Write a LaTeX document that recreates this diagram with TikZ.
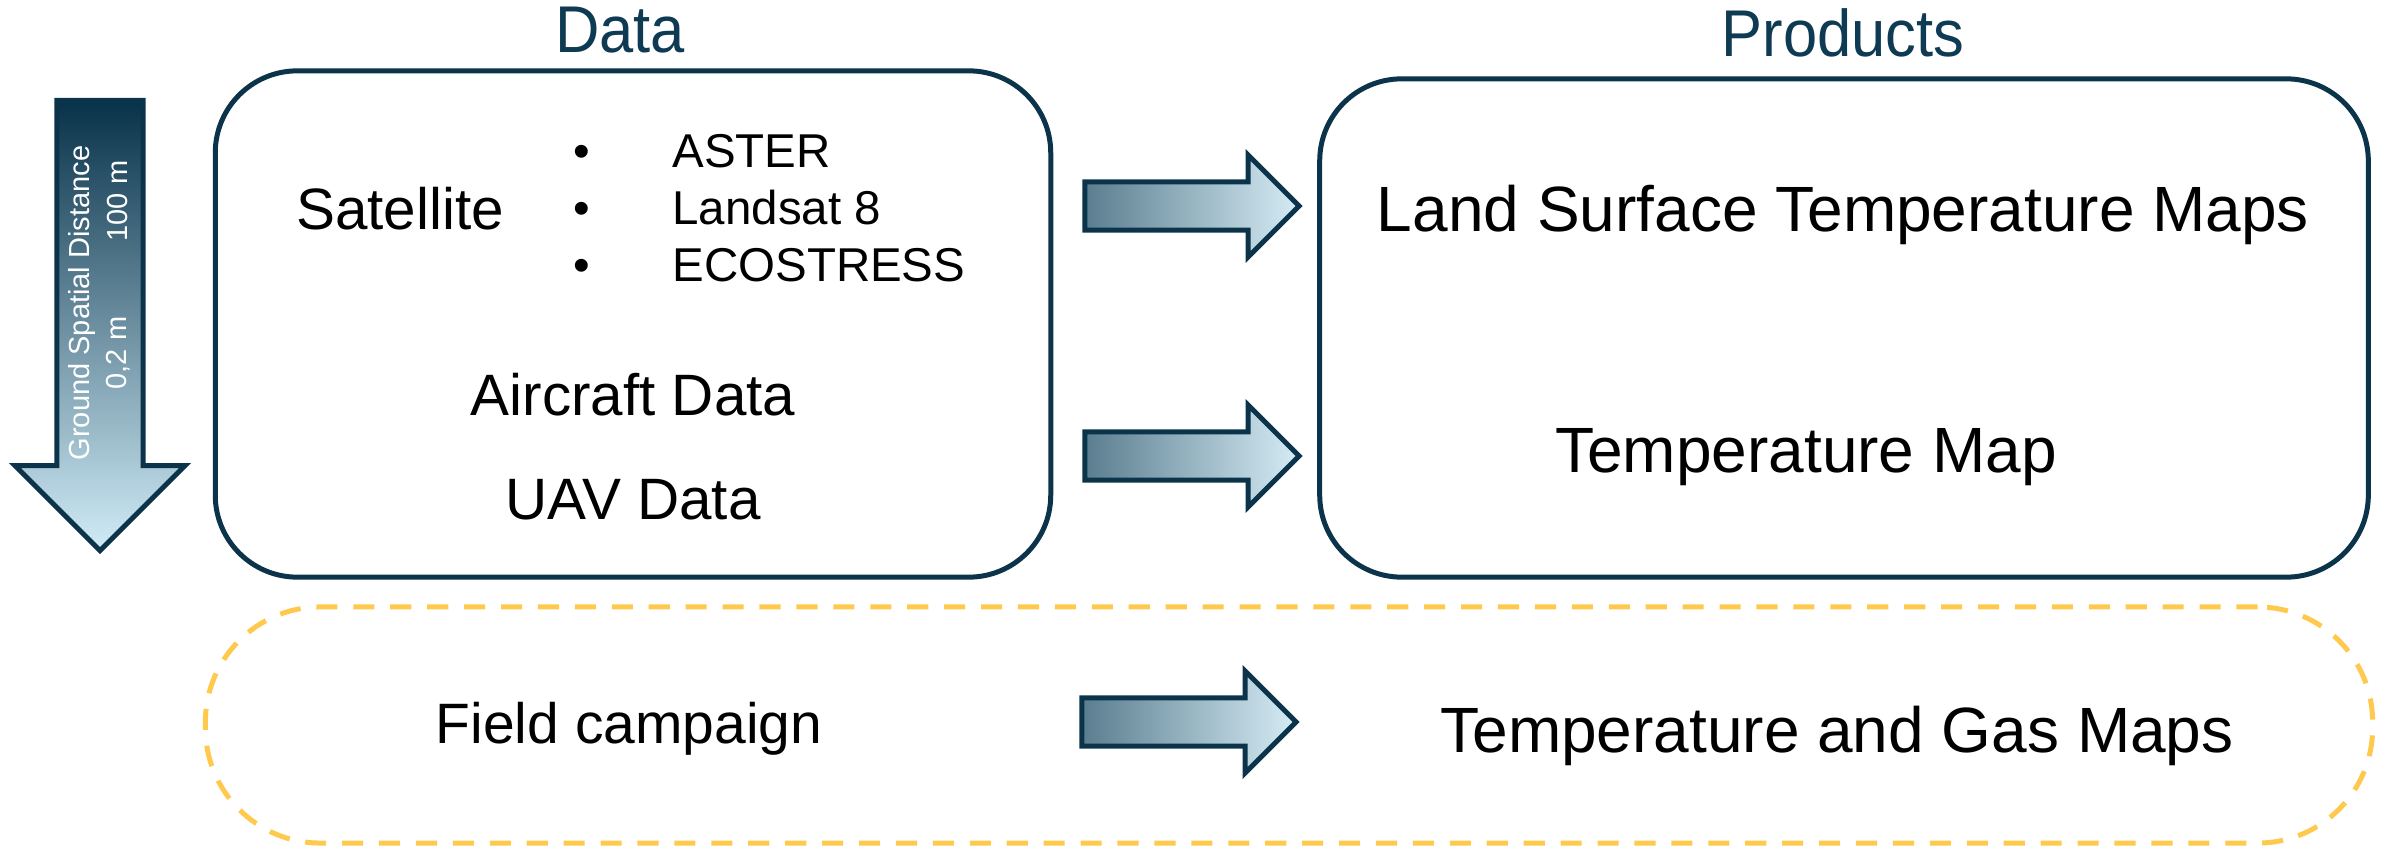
\documentclass[tikz,border=0pt]{standalone}
\usepackage{fontspec}
\setmainfont{Liberation Sans}
\newfontfamily\titlefont[FakeStretch=0.93]{Liberation Sans}
\usetikzlibrary{shapes.arrows,positioning}
\definecolor{navy}{HTML}{0B3349}
\definecolor{titleblue}{HTML}{0E3A53}
\definecolor{campaign}{HTML}{FFC94D}
\definecolor{shaftdark}{HTML}{5A7D8F}
\definecolor{shaftlight}{HTML}{D6ECF5}
\definecolor{gsdtop}{HTML}{08324A}
\definecolor{gsdbottom}{HTML}{D0ECF7}
\newcommand{\setsize}[1]{\fontsize{#1pt}{#1pt}\selectfont}

\begin{document}
\begin{tikzpicture}[
		x=0.01cm, y=-0.01cm,
		line width=1.42pt,
		box/.style={draw=navy, rounded corners=0.82cm, inner sep=0pt},
		campaignbox/.style={draw=campaign, dash pattern=on 6pt off 4.5pt, rounded corners=1.15cm, inner sep=0pt},
		heading/.style={text=titleblue, font=\titlefont\setsize{18.8}, anchor=base, inner sep=0pt},
		txt/.style={font=\setsize{16.6}, anchor=base, inner sep=0pt},
		prodtxt/.style={font=\setsize{18.2}, anchor=base, inner sep=0pt},
		item/.style={font=\setsize{13.5}, anchor=base west, inner sep=0pt},
		bulletmark/.style={font=\setsize{13.5}, anchor=base, inner sep=0pt},
		flow/.style={single arrow, draw=navy, left color=shaftdark, right color=shaftlight,
			minimum height=2.14cm, inner sep=0.215cm, single arrow head extend=0.27cm,
			single arrow head indent=0pt},
		gsdtxt/.style={text=white, font=\setsize{8.25}, rotate=90, inner sep=0pt},
	]
		\useasboundingbox (0,0) rectangle (2382,846);

		% frames
		\node (data) [box, minimum width=8.35cm, minimum height=5.06cm] at (633,324) {};
		\node (products) [box, minimum width=10.48cm, minimum height=4.98cm] at (1844,328) {};
		\node (field) [campaignbox, minimum width=21.66cm, minimum height=2.36cm] at (1289,725) {};

		\node (datatitle) [heading] at (620,53) {Data};
		\node (prodtitle) [heading] at (1843,57) {Products};

		% data sources
		\node (sat) [txt] at (400,230) {Satellite};
		\node (b1) [bulletmark] at (582,168) {•};
		\node (b2) [bulletmark] at (582,225) {•};
		\node (b3) [bulletmark] at (582,282) {•};
		\node (aster) [item] at (670,168) {ASTER};
		\node (landsat) [item] at (670,225) {Landsat 8};
		\node (ecostress) [item] at (670,282) {ECOSTRESS};
		\node (aircraft) [txt] at (633,416) {Aircraft Data};
		\node (uav) [txt] at (633,519) {UAV Data};
		\node (fieldtxt) [txt, font=\setsize{16.2}] at (629,743) {Field campaign};

		% products
		\node (lst) [prodtxt] at (1843,232) {Land Surface Temperature Maps};
		\node (tmap) [prodtxt] at (1806,472) {Temperature Map};
		\node (tgas) [prodtxt] at (1837,752) {Temperature and Gas Maps};

		\node (arrsat) [flow] at (1180,206) {};
		\node (arrair) [flow] at (1180,456) {};
		\node (arrfield) [flow] at (1177,722) {};

		% resolution scale
		\node (gsd) [single arrow, shape border rotate=270, draw=navy, top color=gsdtop, bottom color=gsdbottom,
			minimum height=4.5cm, inner sep=0.405cm, single arrow head extend=0.42cm,
			single arrow head indent=0pt] at (100,304) {};
		\node (gsdlabel) [gsdtxt] at (82,303) {Ground Spatial Distance};
		\node (coarse) [gsdtxt] at (118,201) {100 m};
		\node (fine) [gsdtxt] at (118,353) {0,2 m};
	\end{tikzpicture}
\end{document}
